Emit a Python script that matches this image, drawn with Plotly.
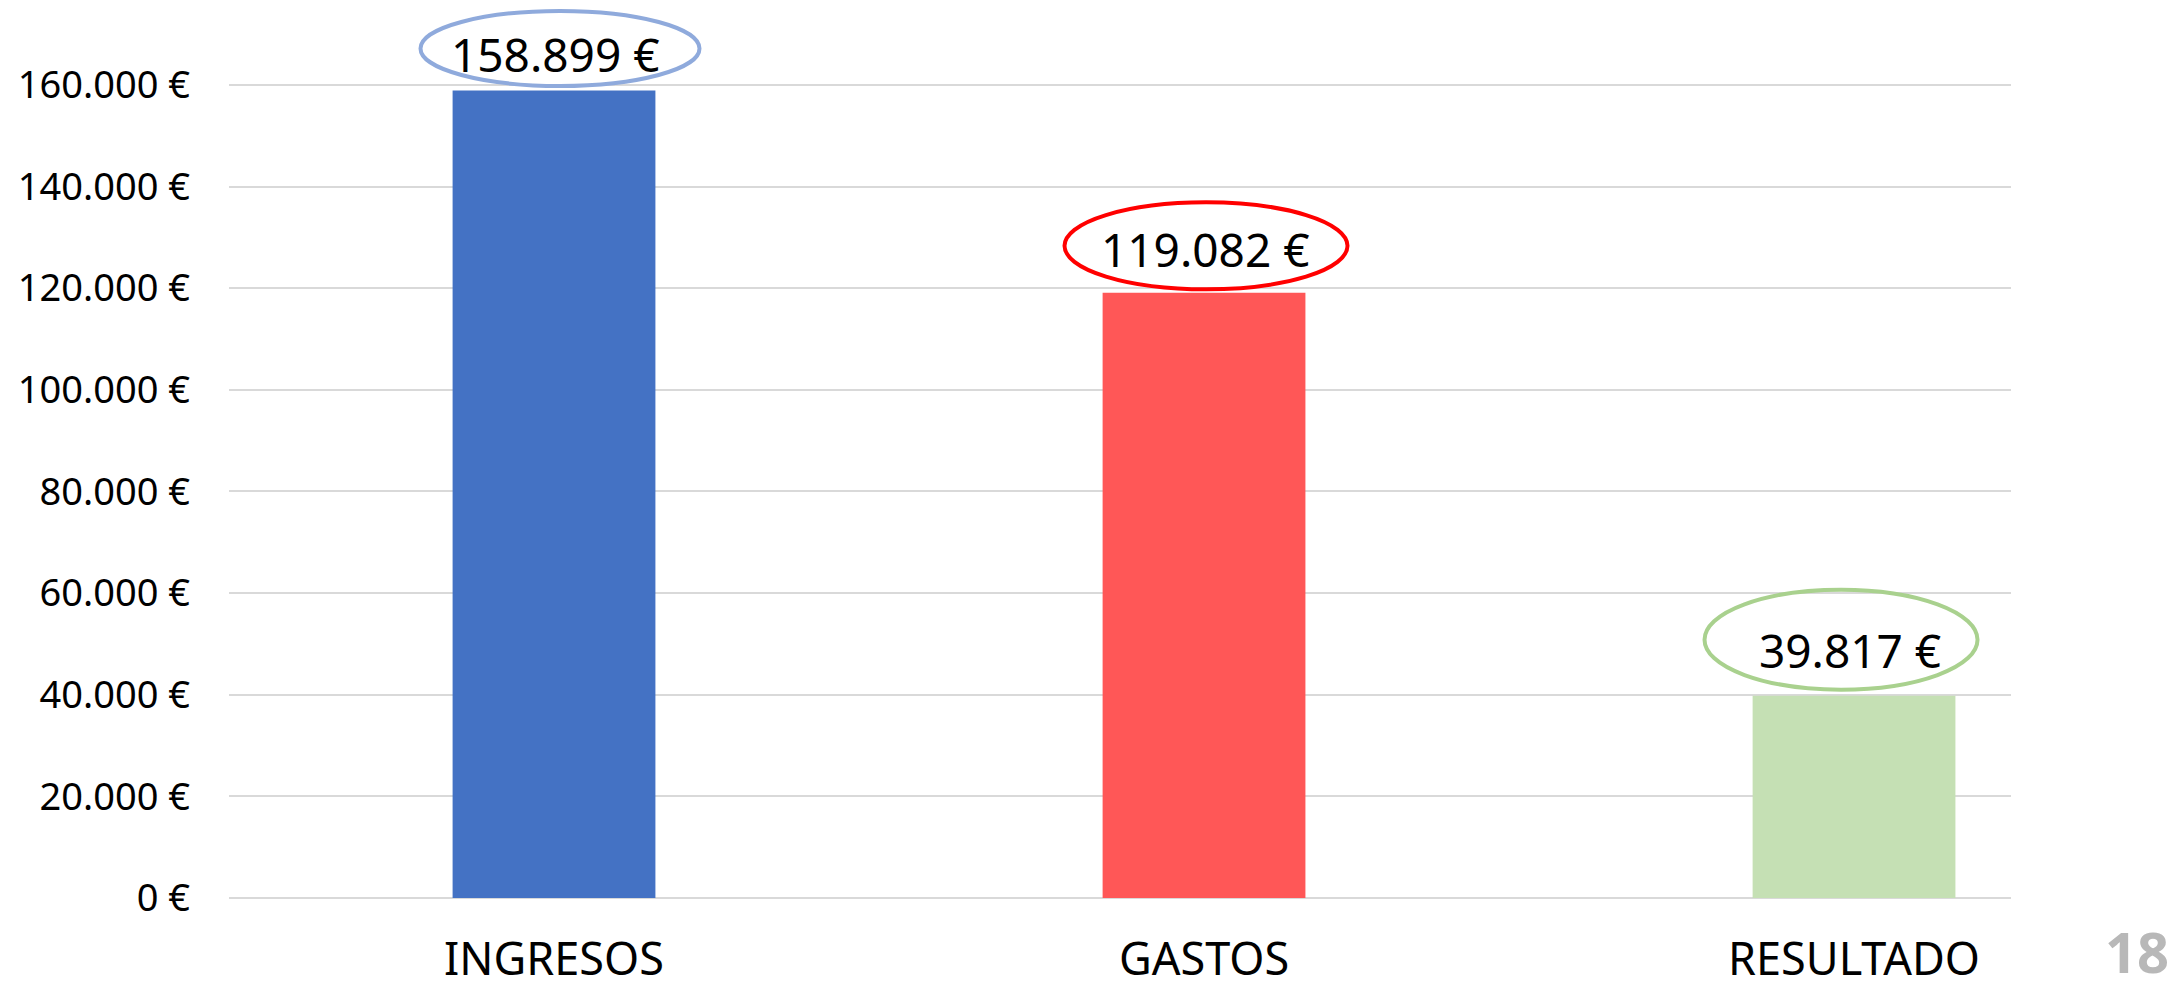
import plotly.graph_objects as go

categories = ["INGRESOS", "GASTOS", "RESULTADO"]
values = [158899, 119082, 39817]
y_ticks = [0, 20000, 40000, 60000, 80000, 100000, 120000, 140000, 160000]

bar_colors = ["#4472c4", "#ff5757", "#c5e0b4"]
ring_colors = ["#8faadc", "#ff0000", "#a9d18e"]
# hand drawn ellipses round the labels: size and centre offset from bar top, in px
ring_w = [279, 283, 273]
ring_h = [75, 87, 100]
ring_dx = [6, 2, -13]
ring_dy = [42, 47, 56]
label_dx = [1, 1, -4]
label_dy = [36, 44, 46]

FONT = "Noto Sans"


def euro(v):
    return f"{v:,} €".replace(",", ".")


xs = list(range(len(categories)))

fig = go.Figure()
fig.add_trace(go.Bar(x=xs, y=values, width=0.312, marker=dict(color=bar_colors, line=dict(width=0)),
                     hoverinfo="skip"))

for i, v in enumerate(values):
    fig.add_shape(type="circle", xref="x", yref="y", xsizemode="pixel", ysizemode="pixel",
                  xanchor=i, yanchor=v,
                  x0=ring_dx[i] - ring_w[i] / 2, x1=ring_dx[i] + ring_w[i] / 2,
                  y0=ring_dy[i] - ring_h[i] / 2, y1=ring_dy[i] + ring_h[i] / 2,
                  line=dict(color=ring_colors[i], width=4))
    fig.add_annotation(x=i, y=v, text=euro(v), showarrow=False, xshift=label_dx[i], yshift=label_dy[i],
                       yanchor="middle", font=dict(family=FONT, size=46, color="black"))

# bit of the logo peeking in at the bottom right
fig.add_annotation(xref="paper", yref="paper", x=1.0, y=-0.015, xshift=92, text="<b>18</b>",
                   showarrow=False, xanchor="left", yanchor="top",
                   font=dict(family=FONT, size=56, color="#b8b8b8"))

fig.update_layout(
    width=2179, height=989,
    margin=dict(l=229, r=168, t=0, b=91, autoexpand=False),
    plot_bgcolor="white", paper_bgcolor="white",
    showlegend=False,
    font=dict(family=FONT, color="black"),
    xaxis=dict(range=[-0.5, 2.2415], tickvals=xs, ticktext=categories, showgrid=False,
               zeroline=False, showline=False, ticks="", ticklabelstandoff=31,
               tickfont=dict(size=45), automargin=False),
    yaxis=dict(range=[0, 176700], tickvals=y_ticks, ticktext=[euro(t) for t in y_ticks],
               showgrid=True, gridcolor="#d9d9d9", gridwidth=2,
               zeroline=True, zerolinecolor="#d9d9d9", zerolinewidth=2,
               showline=False, ticks="", ticklabelstandoff=38,
               tickfont=dict(size=38), automargin=False),
)

fig.write_html("out.html", config={"displayModeBar": False},
               post_script="document.body.style.margin = '0px';")
